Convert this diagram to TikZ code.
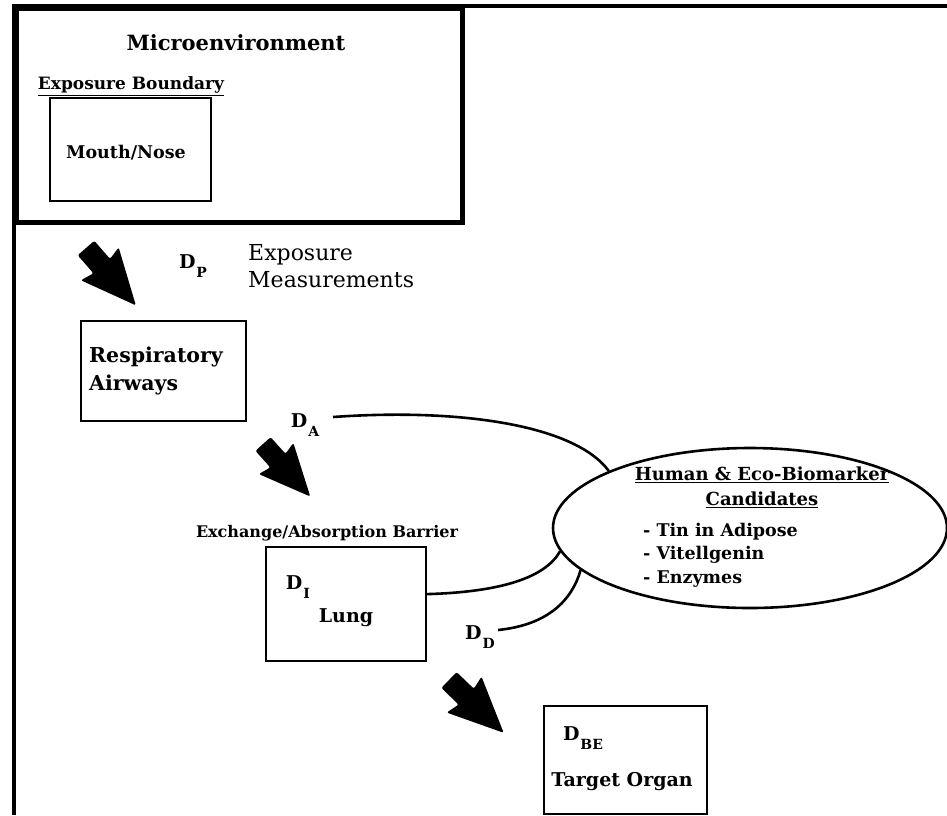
\documentclass[tikz,border=0pt]{standalone}
\usepackage{fontspec}
\setmainfont{DejaVu Serif}
\usetikzlibrary{shapes.geometric}
\newcommand\fs[1]{\fontsize{#1}{#1}\selectfont}
% dose label: D with a subscript
\newcommand\Dlab[1]{D\kern1pt\raisebox{-0.5em}{\fs{14}#1}}

\begin{document}
\begin{tikzpicture}[x=1pt,y=-1pt,
  box/.style={draw,line width=2.2pt,inner sep=0pt,anchor=north west},
  conn/.style={line width=2.6pt},
  lbl/.style={inner sep=0pt,font=\bfseries},
  dlab/.style={inner sep=0pt,font=\bfseries\fs{19}},
  fatarrow/.pic={\fill[rounded corners=2pt] (0,-11)--(24,-11)--(21,-25)--(76,0)--(21,25)--(24,11)--(0,11)--cycle;}]
\useasboundingbox (0,0) rectangle (947,815);

% outer frame (top and left edges)
\draw[line width=4pt] (947,6) -- (14,6) -- (14,815);

% boxes
\node[box,line width=4.5pt,minimum width=446pt,minimum height=214pt] (micro) at (14,6) {};
\node[box,minimum width=161pt,minimum height=103pt] (mouth) at (49,97) {};
\node[box,minimum width=165pt,minimum height=100pt] (resp) at (80,320) {};
\node[box,minimum width=160pt,minimum height=114pt] (lung) at (265,546) {};
\node[box,minimum width=163pt,minimum height=108pt] (target) at (543,705) {};
\node[draw,ellipse,line width=2.6pt,inner sep=0pt,minimum width=394pt,minimum height=160pt] (bio) at (750,528) {};

% texts
\node[lbl,font=\bfseries\fs{21}] (microt) at (236,43) {Microenvironment};
\node[lbl,font=\bfseries\fs{17}] (bound) at (131,86) {\underline{Exposure Boundary}};
\node[lbl,font=\bfseries\fs{17.5}] (mouthT) at (126,153) {Mouth/Nose};
\node[dlab] (dp) at (193,266) {\Dlab{P}};
\node[inner sep=0pt,anchor=west,align=left,font=\fs{22}] (meas) at (248,266) {Exposure\\[5pt]Measurements};
\node[lbl,anchor=west,align=left,font=\bfseries\fs{20.5}] (respT) at (89,371) {Respiratory\\[7pt]Airways};
\node[dlab] (da) at (305,425) {\Dlab{A}};
\node[lbl,font=\bfseries\fs{16}] (barrier) at (327,533) {Exchange/Absorption Barrier};
\node[dlab] (di) at (298,587) {\Dlab{I}};
\node[lbl,font=\bfseries\fs{19}] (lungT) at (346,618) {Lung};
\node[dlab] (dd) at (480,637) {\Dlab{D}};
\node[dlab] (dbe) at (583,738) {\Dlab{BE}};
\node[lbl,font=\bfseries\fs{19}] (targetT) at (622,782) {Target Organ};

\node[lbl,font=\bfseries\fs{18}] (hum) at (762,475) {\underline{Human \& Eco-Biomarker}};
\node[lbl,font=\bfseries\fs{18}] (cand) at (762,500) {\underline{Candidates}};
\node[lbl,anchor=west,align=left,font=\bfseries\fs{17.5}] (list) at (643,555)
  {- Tin in Adipose\\[6pt]- Vitellgenin\\[6pt]- Enzymes};

% connectors into the biomarker ellipse
\coordinate (aStart) at (333,417);
\coordinate (dStart) at (498,630);
\draw[conn] (aStart) .. controls (460,408) and (575,425) .. (bio.158);
\draw[conn] ([yshift=10pt]lung.east) .. controls (500,592) and (545,578) .. (bio.187);
\draw[conn] (dStart) .. controls (548,625) and (572,600) .. (bio.194);

% block arrows along the exposure path
\pic[rotate=-49] at (86,248) {fatarrow};
\pic[rotate=-48,scale=0.93] at (263,444) {fatarrow};
\pic[rotate=-44] at (449,680) {fatarrow};
\end{tikzpicture}
\end{document}
